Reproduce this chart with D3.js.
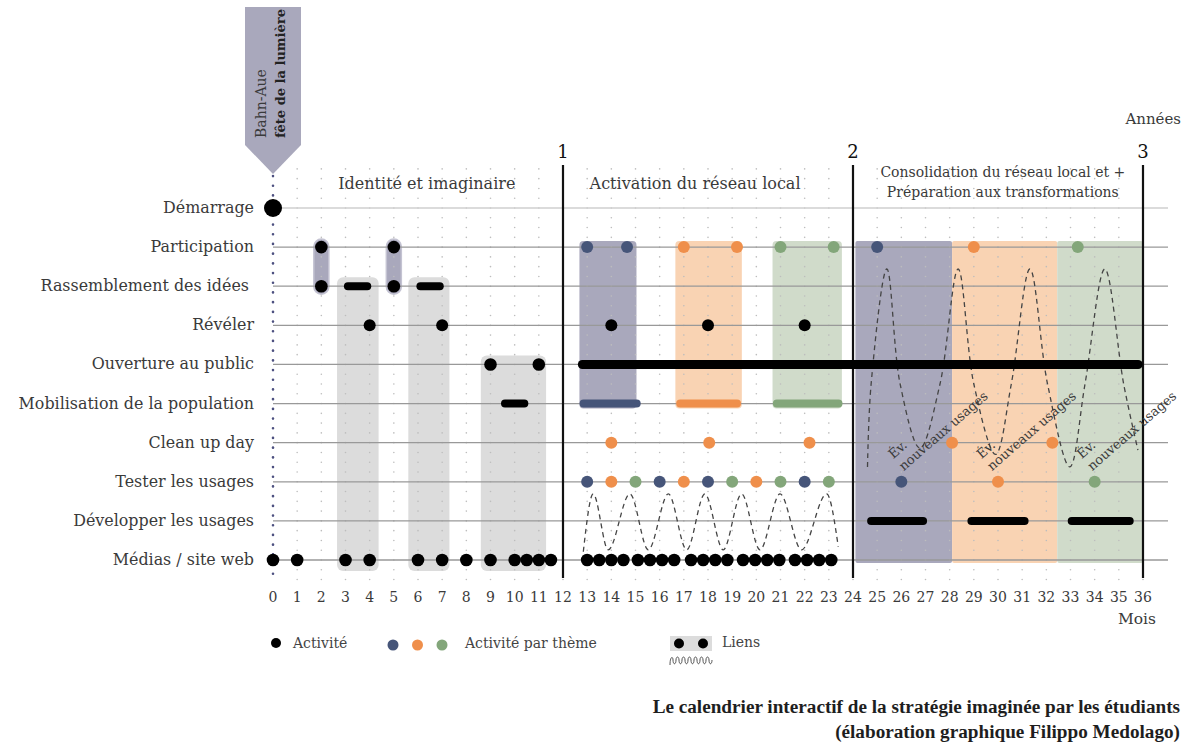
<!DOCTYPE html>
<html>
<head>
<meta charset="utf-8">
<script src="https://cdn.jsdelivr.net/npm/d3@7"></script>
<style>
  body { margin: 0; background: #fff; }
  text { font-family: "DejaVu Serif", serif; fill: #3a3a3a; }
  text.cap { font-family: "Liberation Serif", serif; }
</style>
</head>
<body>
<div id="chart"></div>
<script>
// rows of the calendar (top to bottom)
const rows = ["Démarrage", "Participation", "Rassemblement des idées ", "Révéler",
  "Ouverture au public", "Mobilisation de la population", "Clean up day",
  "Tester les usages", "Développer les usages", "Médias / site web"];
const monthTicks = d3.range(0, 37);
const years = [1, 2, 3];

// black activity dots, month per row
const demarrage = [0];
const participation = [2, 5];
const rassemblement = [2, 5];
const reveler = [4, 7, 14, 18, 22];
const ouverture = [9, 11];
const medias = [0, 1, 3, 4, 6, 7, 8, 9, 10, 10.5, 11, 11.5,
  13, 13.5, 14, 14.5, 15.1, 15.6, 16.1, 16.6, 17.3, 17.8, 18.3, 18.8,
  19.45, 19.95, 20.45, 20.95, 21.6, 22.1, 22.6, 23.1];

// black bars [from, to]
const rassemblementBars = [[3.1, 3.9], [6.1, 6.9]];
const mobilisationBars = [[9.6, 10.4]];
const ouvertureBars = [[12.8, 35.8]];
const developperBars = [[24.75, 26.9], [28.9, 31.1], [33.05, 35.45]];

// theme dots and bars (b = bleu, o = orange, g = vert)
const themeParticipation = [[13, "b"], [14.65, "b"], [17, "o"], [19.2, "o"], [21, "g"], [23.2, "g"],
  [25, "b"], [29, "o"], [33.3, "g"]];
const themeCleanup = [[14, "o"], [18.05, "o"], [22.2, "o"], [28.1, "o"], [32.25, "o"]];
const themeTester = [[13, "b"], [14, "o"], [15, "g"], [16, "b"], [17, "o"], [18, "b"], [19, "g"],
  [20, "o"], [21, "g"], [22, "b"], [23, "g"], [26, "b"], [30, "o"], [34, "g"]];
const themeMobilisation = [[12.85, 15.05, "b"], [16.85, 19.2, "o"], [20.85, 23.4, "g"]];

// link areas
const grayLinks = [[2.65, 4.37, 2, 9], [5.6, 7.3, 2, 9], [8.6, 11.3, 4, 9]];
const purpleLinks = [[2, 1, 2], [5, 1, 2]];
const themeBlocksY2 = [[12.68, 15.04, "b"], [16.65, 19.4, "o"], [20.67, 23.54, "g"]];
const themeBlocksY3 = [[24.1, 28.1, "b"], [28.1, 32.45, "o"], [32.45, 36, "g"]];

// dashed link waves [month, row]
const wave2 = [[12.84, 8.79], [13.25, 7.31], [13.87, 8.74], [14.77, 7.31], [15.53, 8.74], [16.36, 7.31],
  [17.12, 8.74], [17.87, 7.31], [18.63, 8.74], [19.39, 7.31], [20.15, 8.74], [20.98, 7.31],
  [21.87, 8.74], [22.91, 7.31], [23.39, 8.66]];
const wave3 = [[24.6, 6.62], [24.75, 4.5], [25.4, 1.56], [25.95, 4.5], [26.77, 6.14], [27.6, 4.5],
  [28.35, 1.56], [29.0, 4.5], [29.9, 6.3], [30.55, 4.5], [31.32, 1.56], [32.05, 4.5],
  [32.97, 6.62], [33.6, 4.5], [34.42, 1.56], [35.2, 4.5], [35.79, 6.19]];
const evLabels = [26.1, 29.75, 33.9];

const phases = [["Identité et imaginaire"], ["Activation du réseau local"],
  ["Consolidation du réseau local et +", "Préparation aux transformations"]];

const dotColor = { b: "#465579", o: "#ef8f4b", g: "#83a67a" };
const blockColor = { b: "#a9a8bc", o: "#f9d3b3", g: "#d0dbca" };

const svg = d3.select("#chart").append("svg")
  .attr("width", 1186).attr("height", 750);

const x = d3.scaleLinear().domain([0, 36]).range([273, 1143]);
const y = d3.scaleLinear().domain([0, 9]).range([208, 560]);

// blocks
svg.append("g").selectAll("rect").data(themeBlocksY2).join("rect")
  .attr("x", d => x(d[0])).attr("width", d => x(d[1]) - x(d[0]))
  .attr("y", y(1) - 6).attr("height", y(5) - y(1) + 11)
  .attr("rx", 4).attr("fill", d => blockColor[d[2]]);

svg.append("g").selectAll("rect").data(themeBlocksY3).join("rect")
  .attr("x", d => x(d[0])).attr("width", d => x(d[1]) - x(d[0]))
  .attr("y", y(1) - 6).attr("height", y(9) - y(1) + 9)
  .attr("rx", 2).attr("fill", d => blockColor[d[2]]);

svg.append("g").selectAll("rect").data(grayLinks).join("rect")
  .attr("x", d => x(d[0])).attr("width", d => x(d[1]) - x(d[0]))
  .attr("y", d => y(d[2]) - 9).attr("height", d => y(d[3]) - y(d[2]) + 20)
  .attr("rx", 6).attr("fill", "#dcdcdc");

svg.append("g").selectAll("rect").data(purpleLinks).join("rect")
  .attr("x", d => x(d[0]) - 7.5).attr("width", 15)
  .attr("y", d => y(d[1]) - 8).attr("height", d => y(d[2]) - y(d[1]) + 16)
  .attr("rx", 7.5).attr("fill", "#a9a8bc").attr("stroke", "#c4c3d2").attr("stroke-width", 1.5);

// dotted grid
const gridRows = d3.range(-1, 9.6, 0.25);
const grid = svg.append("g").attr("fill", "#bdbdbd");
monthTicks.slice(1).forEach(m => {
  grid.selectAll(null).data(gridRows).join("circle")
    .attr("cx", x(m)).attr("cy", d => y(d)).attr("r", 0.8);
});

// row lines
svg.append("g").selectAll("line").data(rows).join("line")
  .attr("x1", x(0)).attr("x2", 1168)
  .attr("y1", (d, i) => y(i)).attr("y2", (d, i) => y(i))
  .attr("stroke", (d, i) => i === 0 ? "#cfcfcf" : "#999")
  .attr("stroke-width", 1.3);

// left dotted line
svg.append("line")
  .attr("x1", x(0)).attr("x2", x(0)).attr("y1", 176).attr("y2", 578)
  .attr("stroke", "#4d5080").attr("stroke-width", 2.6)
  .attr("stroke-linecap", "round").attr("stroke-dasharray", "0.1,9.6");

// year lines
svg.append("g").selectAll("line").data(years).join("line")
  .attr("x1", d => x(d * 12)).attr("x2", d => x(d * 12))
  .attr("y1", 165).attr("y2", 578)
  .attr("stroke", "#111").attr("stroke-width", 2.2);

svg.append("g").selectAll("text").data(years).join("text")
  .attr("x", d => x(d * 12)).attr("y", 158)
  .attr("text-anchor", "middle").attr("font-size", 18).style("fill", "#111")
  .text(d => d);

svg.append("text").attr("x", 1181).attr("y", 124).attr("text-anchor", "end")
  .attr("font-size", 15).text("Années");

// phase titles
svg.append("text").attr("x", x(2.7)).attr("y", 189).attr("font-size", 16).text(phases[0][0]);
svg.append("text").attr("x", x(13.1)).attr("y", 189).attr("font-size", 16).text(phases[1][0]);
phases[2].forEach((t, i) => {
  svg.append("text").attr("x", x(30.2)).attr("y", 177 + i * 20)
    .attr("text-anchor", "middle").attr("font-size", 14).text(t);
});

// dashed waves
const wave = d3.line().x(d => x(d[0])).y(d => y(d[1])).curve(d3.curveCatmullRom.alpha(0.5));
svg.append("g").selectAll("path").data([wave2]).join("path")
  .attr("d", d3.line().x(d => x(d[0])).y(d => y(d[1])).curve(d3.curveMonotoneX))
  .attr("fill", "none")
  .attr("stroke", "#444").attr("stroke-width", 1.3).attr("stroke-dasharray", "5,4");
svg.append("g").selectAll("path").data([wave3]).join("path")
  .attr("d", wave).attr("fill", "none")
  .attr("stroke", "#444").attr("stroke-width", 1.3).attr("stroke-dasharray", "5,4");

// Év. nouveaux usages
evLabels.forEach(m => {
  const g = svg.append("g").attr("transform", `translate(${x(m)},${y(6.73)}) rotate(-41)`);
  g.append("text").attr("x", 0).attr("y", -16).attr("font-size", 13).text("Év.");
  g.append("text").attr("x", 0).attr("y", 0).attr("font-size", 13).text("nouveaux usages");
});

// bars
function bars(data, row, color, w) {
  svg.append("g").selectAll("line").data(data).join("line")
    .attr("x1", d => x(d[0])).attr("x2", d => x(d[1]))
    .attr("y1", y(row)).attr("y2", y(row))
    .attr("stroke", d => d[2] ? dotColor[d[2]] : color)
    .attr("stroke-width", w).attr("stroke-linecap", "round");
}
bars(rassemblementBars, 2, "#000", 8);
bars(mobilisationBars, 5, "#000", 8);
bars(ouvertureBars, 4, "#000", 9);
bars(developperBars, 8, "#000", 8);
bars(themeMobilisation, 5, null, 8);

// dots
function dots(data, row, r) {
  svg.append("g").selectAll("circle").data(data).join("circle")
    .attr("cx", d => x(Array.isArray(d) ? d[0] : d)).attr("cy", y(row))
    .attr("r", r)
    .attr("fill", d => Array.isArray(d) ? dotColor[d[1]] : "#000");
}
dots(demarrage, 0, 9);
dots(participation, 1, 6.3);
dots(rassemblement, 2, 6.3);
dots(reveler, 3, 6);
dots(ouverture, 4, 6.3);
dots(medias, 9, 6.3);
dots(themeParticipation, 1, 6);
dots(themeCleanup, 6, 6);
dots(themeTester, 7, 6);

// row labels
svg.append("g").selectAll("text").data(rows).join("text")
  .attr("x", 254).attr("y", (d, i) => y(i) + 5)
  .attr("text-anchor", "end").attr("font-size", 15.9)
  .style("white-space", "pre")
  .text(d => d);

// month labels
svg.append("g").selectAll("text").data(monthTicks).join("text")
  .attr("x", d => x(d)).attr("y", 602)
  .attr("text-anchor", "middle").attr("font-size", 14)
  .text(d => d);
svg.append("text").attr("x", 1156).attr("y", 624).attr("text-anchor", "end")
  .attr("font-size", 15.5).text("Mois");

// marker Bahn-Aue
const mx = x(0);
svg.append("path")
  .attr("d", `M${mx - 28},7 L${mx + 28},7 L${mx + 28},145 L${mx},174 L${mx - 28},145 Z`)
  .attr("fill", "#a9a8bc");
const mk = svg.append("g").attr("transform", `translate(${mx},138) rotate(-90)`);
mk.append("text").attr("x", 0).attr("y", -7).attr("font-size", 14).text("Bahn-Aue");
mk.append("text").attr("x", 0).attr("y", 12).attr("font-size", 13)
  .attr("font-weight", "bold").style("fill", "#222").text("fête de la lumière");

// legend
const lg = svg.append("g");
lg.append("circle").attr("cx", 276).attr("cy", 643).attr("r", 5).attr("fill", "#000");
lg.append("text").attr("x", 293).attr("y", 648).attr("font-size", 14).style("fill", "#444").text("Activité");
lg.selectAll(".td").data(["b", "o", "g"]).join("circle")
  .attr("cx", (d, i) => 393 + i * 24.5).attr("cy", 645).attr("r", 5.5)
  .attr("fill", d => dotColor[d]);
lg.append("text").attr("x", 465).attr("y", 648).attr("font-size", 14).style("fill", "#444").text("Activité par thème");
lg.append("rect").attr("x", 670).attr("y", 636).attr("width", 42).attr("height", 15).attr("fill", "#dcdcdc");
lg.selectAll(".ld").data([679, 703]).join("circle")
  .attr("cx", d => d).attr("cy", 643.5).attr("r", 5).attr("fill", "#000");
const sq = d3.path();
sq.moveTo(670, 665);
for (let i = 0; i < 7; i++) {
  const sx = 670 + i * 6;
  sq.bezierCurveTo(sx, 656, sx + 3, 656, sx + 3, 660);
  sq.bezierCurveTo(sx + 3, 665, sx + 6, 665, sx + 6, 660);
}
lg.append("path").attr("d", sq.toString()).attr("fill", "none").attr("stroke", "#555").attr("stroke-width", 1);
lg.append("text").attr("x", 722).attr("y", 647).attr("font-size", 14).style("fill", "#444").text("Liens");

// caption
const cap = ["Le calendrier interactif de la stratégie imaginée par les étudiants",
  "(élaboration graphique Filippo Medolago)"];
cap.forEach((t, i) => {
  svg.append("text").attr("class", "cap").attr("x", 1180).attr("y", 713 + i * 25)
    .attr("text-anchor", "end").attr("font-size", 19.2).attr("font-weight", "bold")
    .style("fill", "#1e1e1e").text(t);
});
</script>
</body>
</html>
